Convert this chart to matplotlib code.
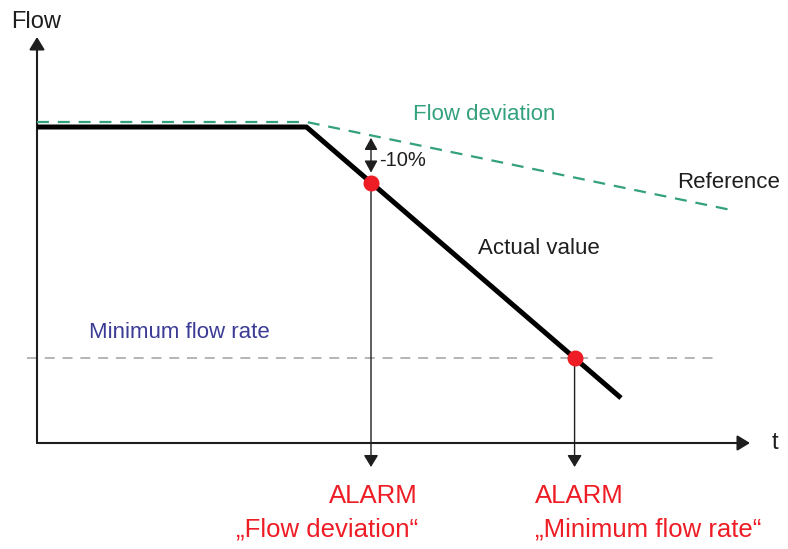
import numpy as np
import matplotlib
matplotlib.use('Agg')
import matplotlib.pyplot as plt

plt.rcParams['font.family'] = ['Liberation Sans', 'DejaVu Sans']
plt.rcParams['lines.scale_dashes'] = False

# flow curves (arbitrary units, time axis starts at 0)
t_actual = [0.0, 5.39, 11.68]
flow_actual = [6.32, 6.32, 0.90]
t_reference = [0.0, 5.39, 13.98]
flow_reference = [6.42, 6.42, 4.64]
flow_minimum = 1.70
t_minimum_line = [-0.20, 13.62]
t_alarm_deviation = 6.68
flow_alarm_end = -0.48
t_axis_end = 14.26
flow_axis_end = 8.12

# alarm points
flow_alarm_deviation = np.interp(t_alarm_deviation, t_actual, flow_actual)
ref_alarm_deviation = np.interp(t_alarm_deviation, t_reference, flow_reference)
t_alarm_minimum = np.interp(flow_minimum, flow_actual[::-1], t_actual[::-1])

GREEN = '#33a07e'
RED = '#ee1c25'
BLUE = '#3c3c96'
DARK = '#1e1e1e'

fig = plt.figure(figsize=(7.88, 5.49), dpi=100)
ax = fig.add_axes([0, 0, 1, 1])
ax.set_xlim(-0.74, 15.02)
ax.set_ylim(-2.12, 8.86)
ax.axis('off')

HEAD = '-|>,head_length=0.36,head_width=0.22'


def arrow(x0, y0, x1, y1, lw=1.0, scale=20, style=HEAD):
    ax.annotate('', xy=(x1, y1), xytext=(x0, y0),
                arrowprops=dict(arrowstyle=style, mutation_scale=scale, lw=lw,
                                color=DARK, shrinkA=0, shrinkB=0))


# axes with arrow heads
arrow(0, 0, t_axis_end, 0, lw=1.5, scale=21)
arrow(0, 0, 0, flow_axis_end, lw=1.5, scale=21)
ax.text(0.5 + t_axis_end, 0, 't', fontsize=17, ha='center', va='center', color=DARK)
ax.text(-0.02, 8.42, 'Flow', fontsize=17, ha='center', va='center', color=DARK)

# minimum flow rate
ax.plot(t_minimum_line, [flow_minimum] * 2, color='#a0a0a0', lw=1.1, dashes=[7.2, 5.6])
ax.text(2.84, 2.22, 'Minimum flow rate', fontsize=16, ha='center', va='center', color=BLUE)

# actual and reference curves
ax.plot(t_actual, flow_actual, color='black', lw=3.6, solid_capstyle='butt', zorder=3)
ax.plot(t_reference, flow_reference, color=GREEN, lw=1.6, dashes=[8.6, 6.4], zorder=4)
ax.text(8.94, 6.58, 'Flow deviation', fontsize=16, ha='center', va='center', color=GREEN)
ax.text(13.84, 5.22, 'Reference', fontsize=16, ha='center', va='center', color=DARK)
ax.text(10.04, 3.88, 'Actual value', fontsize=16, ha='center', va='center', color=DARK)

# -10 % deviation marker
ax.annotate('', xy=(t_alarm_deviation, flow_alarm_deviation + 0.2),
            xytext=(t_alarm_deviation, ref_alarm_deviation - 0.05),
            arrowprops=dict(arrowstyle='<|-|>,head_length=0.4,head_width=0.22',
                            mutation_scale=18, lw=1.0,
                            color=DARK, shrinkA=0, shrinkB=0))
ax.text(6.84, 5.64, '-10%', fontsize=14.5, ha='left', va='center', color=DARK)

# alarm arrows
arrow(t_alarm_deviation, flow_alarm_deviation, t_alarm_deviation, flow_alarm_end)
arrow(t_alarm_minimum, flow_minimum, t_alarm_minimum, flow_alarm_end)
ax.plot([t_alarm_deviation, t_alarm_minimum], [flow_alarm_deviation, flow_minimum],
        'o', color=RED, ms=10.5, zorder=5)

ax.text(7.62, -1.06, 'ALARM', fontsize=18.5, ha='right', va='center', color=RED)
ax.text(7.62, -1.72, '„Flow deviation“', fontsize=18.5, ha='right', va='center', color=RED)
ax.text(9.96, -1.06, 'ALARM', fontsize=18.5, ha='left', va='center', color=RED)
ax.text(9.96, -1.72, '„Minimum flow rate“', fontsize=18.5, ha='left', va='center', color=RED)

fig.savefig('out.png', dpi=100)
